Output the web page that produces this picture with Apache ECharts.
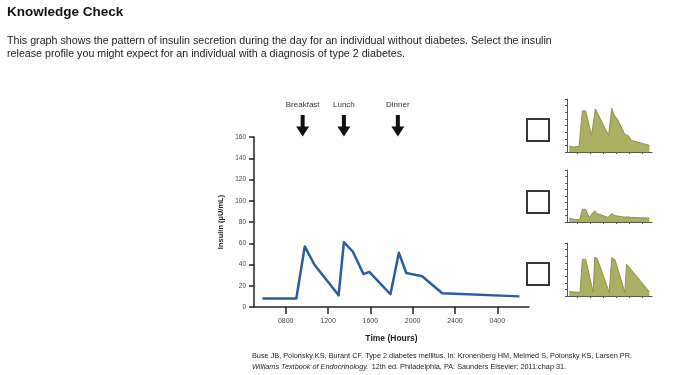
<!DOCTYPE html>
<html>
<head>
<meta charset="utf-8">
<script src="https://cdn.jsdelivr.net/npm/echarts@6/dist/echarts.min.js"></script>
<style>
  html, body { margin: 0; padding: 0; background: #fff; }
  #main { width: 700px; height: 375px; }
</style>
</head>
<body>
<div id="main"></div>
<script>
// ---------------- data ----------------
// time axis in hours since midnight (24 = 2400, 28 = 0400 next day)
var xTickValues = [8, 12, 16, 20, 24, 28];
var xTickLabels = ['0800', '1200', '1600', '2000', '2400', '0400'];

// normal insulin profile (main chart)
var mainHours   = [5.8, 9.0, 9.8, 10.7, 13.0, 13.5, 14.35, 15.35, 15.9, 17.9, 18.7, 19.4, 20.9, 22.8, 30.1];
var mainInsulin = [8,   8,   57,  40,   11,   61,   52,    31,    33,   12,   51,   32,   29,   13,   10];

// meals
var mealNames = ['Breakfast', 'Lunch', 'Dinner'];
var mealHours = [9.6, 13.5, 18.6];

// answer option 1 (top thumbnail)
var optAHours = [5.7, 7.0, 8.7, 9.7, 10.7, 12.5, 13.7, 14.2, 14.7, 17.7, 18.7, 19.5, 20.3, 22.7, 23.7, 24.7, 26.5, 30.2];
var optAVals  = [18,  15,  17,  124, 124,  50,   130,  120,  116,  50,   132,  110,  101,  53,   50,   35,   30,   20];

// answer option 2 (middle thumbnail)
var optBHours = [5.7, 7.5, 9.0, 9.7, 10.7, 11.8, 13.5, 14.0, 14.5, 17.5, 18.7, 19.5, 22.5, 23.5, 24.5, 30.2];
var optBVals  = [12,  7,   8,   39,  39,   14,   35,   27,   30,   14,   26,   20,   15,   16,   14,   12];

// answer option 3 (bottom thumbnail)
var optCHours = [5.7, 9.0, 9.7, 10.7, 13.0, 13.5, 14.2, 14.6, 17.9, 18.7, 19.7, 22.7, 23.2, 30.2];
var optCVals  = [13,  11,  111, 111,  11,   117,  114,  116,  11,   116,  109,  11,   96,   13];

// ---------------- helpers ----------------
function pairs(xs, ys) {
	var out = [];
	for (var i = 0; i < xs.length; i++) out.push([xs[i], ys[i]]);
	return out;
}

var FONT = '"Liberation Sans", Arial, sans-serif';
var AXIS_COLOR = '#222';
var OLIVE_FILL = '#abaf62';
var OLIVE_LINE = '#8e9245';

// small thumbnail axes, same scale as the main chart but no labels
function thumbX(idx) {
	return {
		type: 'value', gridIndex: idx, min: 5, max: 31,
		axisLine: { lineStyle: { color: '#555', width: 1 } },
		axisTick: { show: true, length: 2, customValues: xTickValues, lineStyle: { color: '#555' } },
		axisLabel: { show: false },
		splitLine: { show: false }
	};
}
function thumbY(idx) {
	return {
		type: 'value', gridIndex: idx, min: 0, max: 160, interval: 20,
		axisLine: { show: true, lineStyle: { color: '#555', width: 1 } },
		axisTick: { show: true, length: 2, lineStyle: { color: '#555' } },
		axisLabel: { show: false },
		splitLine: { show: false }
	};
}
function thumbSeries(idx, data) {
	return {
		type: 'line', xAxisIndex: idx, yAxisIndex: idx,
		data: data, showSymbol: false, silent: true,
		lineStyle: { color: OLIVE_LINE, width: 1 },
		areaStyle: { color: OLIVE_FILL, opacity: 1 }
	};
}

var myChart = echarts.init(document.getElementById('main'));

var option = {
	backgroundColor: '#fff',
	animation: false,
	textStyle: { fontFamily: FONT },
	grid: [
		{ left: 254, top: 137, width: 275, height: 170 },	// main
		{ left: 567, top: 99,  width: 85, height: 53 },	// option 1
		{ left: 567, top: 170, width: 85, height: 52 },	// option 2
		{ left: 567, top: 243, width: 85, height: 53 }	// option 3
	],
	xAxis: [
		{
			type: 'value', gridIndex: 0, min: 5, max: 31,
			name: 'Time (Hours)', nameLocation: 'middle', nameGap: 27,
			nameTextStyle: { fontSize: 8.5, fontWeight: 'bold', color: '#222', fontFamily: FONT },
			axisLine: { lineStyle: { color: AXIS_COLOR, width: 1.5 } },
			axisTick: { show: true, length: 7, customValues: xTickValues, lineStyle: { color: AXIS_COLOR, width: 1.5 } },
			axisLabel: {
				customValues: xTickValues, fontSize: 7, color: '#444', margin: 11,
				formatter: function (v) {
					var i = xTickValues.indexOf(v);
					return i >= 0 ? xTickLabels[i] : '';
				}
			},
			splitLine: { show: false }
		},
		thumbX(1), thumbX(2), thumbX(3)
	],
	yAxis: [
		{
			type: 'value', gridIndex: 0, min: 0, max: 160, interval: 20,
			name: 'Insulin (\u00b5U/mL)', nameLocation: 'middle', nameGap: 29, nameRotate: 90,
			nameTextStyle: { fontSize: 7.5, fontWeight: 'bold', color: '#222', fontFamily: FONT },
			axisLine: { show: true, lineStyle: { color: AXIS_COLOR, width: 1.5 } },
			axisTick: { show: true, length: 5, lineStyle: { color: AXIS_COLOR, width: 1.5 } },
			axisLabel: { fontSize: 6.5, color: '#444', margin: 8 },
			splitLine: { show: false }
		},
		thumbY(1), thumbY(2), thumbY(3)
	],
	series: [
		{
			type: 'line', xAxisIndex: 0, yAxisIndex: 0,
			data: pairs(mainHours, mainInsulin),
			showSymbol: false, silent: true,
			lineStyle: { color: '#2b5c9c', width: 2.5, join: 'round' }
		},
		thumbSeries(1, pairs(optAHours, optAVals)),
		thumbSeries(2, pairs(optBHours, optBVals)),
		thumbSeries(3, pairs(optCHours, optCVals))
	]
};
myChart.setOption(option);

// ---------------- text, meal arrows and check boxes ----------------
var graphics = [
	{ type: 'text', left: 7, top: 5, style: { text: 'Knowledge Check', font: 'bold 13.5px ' + FONT, fill: '#111' } },
	{ type: 'text', left: 7, top: 35, style: {
		text: 'This graph shows the pattern of insulin secretion during the day for an individual without diabetes. Select the insulin\nrelease profile you might expect for an individual with a diagnosis of type 2 diabetes.',
		font: '10.7px ' + FONT, fill: '#222', lineHeight: 13 } },
	{ type: 'text', left: 252, top: 350, style: {
		rich: { n: { font: '7.3px ' + FONT, fill: '#222' }, i: { font: 'italic 7.3px ' + FONT, fill: '#222' } },
		text: '{n|Buse JB, Polonsky KS, Burant CF. Type 2 diabetes mellitus. In: Kronenberg HM, Melmed S, Polonsky KS, Larsen PR.}\n{i|Williams Textbook of Endocrinology.} {n|12th ed. Philadelphia, PA: Saunders Elsevier; 2011:chap 31.}',
		lineHeight: 11 } }
];

// arrows above the main chart at the meal times
for (var m = 0; m < mealHours.length; m++) {
	var px = myChart.convertToPixel({ gridIndex: 0 }, [mealHours[m], 0])[0];
	graphics.push({
		type: 'text', x: px, y: 105,
		style: { text: mealNames[m], font: '8px ' + FONT, fill: '#333', align: 'center', verticalAlign: 'middle' }
	});
	graphics.push({
		type: 'polygon',
		shape: { points: [
			[px - 2, 115], [px + 2, 115], [px + 2, 126.5], [px + 6.5, 126.5],
			[px, 136.5], [px - 6.5, 126.5], [px - 2, 126.5]
		] },
		style: { fill: '#111' }
	});
}

// answer check boxes
var boxTops = [119, 191, 263];
for (var b = 0; b < boxTops.length; b++) {
	graphics.push({
		type: 'rect', shape: { x: 527, y: boxTops[b], width: 22, height: 22 },
		style: { fill: '#fff', stroke: '#3a3431', lineWidth: 2 }
	});
}

myChart.setOption({ graphic: graphics });
</script>
</body>
</html>
